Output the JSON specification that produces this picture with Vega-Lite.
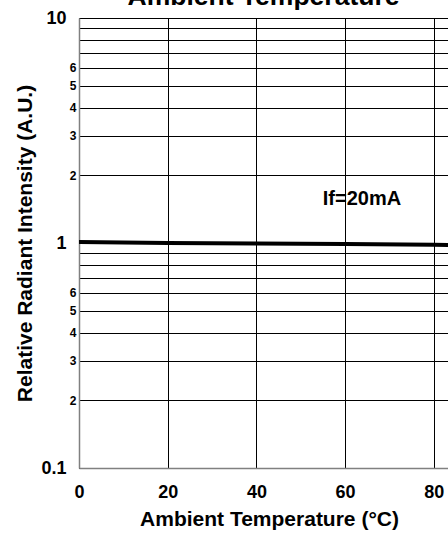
{
  "$schema": "https://vega.github.io/schema/vega-lite/v6.json",
  "autosize": "none",
  "width": 369,
  "height": 450,
  "padding": {"left": 79, "top": 18, "right": 0, "bottom": 66},
  "background": "white",
  "config": {
    "view": {"stroke": null},
    "font": "Liberation Sans"
  },
  "title": {
    "text": "Ambient Temperature",
    "fontSize": 26.5,
    "fontWeight": "bold",
    "font": "Liberation Sans",
    "color": "black",
    "anchor": "middle",
    "baseline": "alphabetic",
    "offset": -22
  },
  "layer": [
    {
      "data": {
        "values": [
          {"temp": 0, "intensity": 1.01},
          {"temp": 20, "intensity": 1.0},
          {"temp": 40, "intensity": 0.995},
          {"temp": 60, "intensity": 0.99},
          {"temp": 80, "intensity": 0.982},
          {"temp": 100, "intensity": 0.975}
        ]
      },
      "mark": {"type": "line", "color": "black", "strokeWidth": 4, "clip": true},
      "encoding": {
        "x": {
          "field": "temp",
          "type": "quantitative",
          "scale": {"domain": [0, 83.2], "nice": false, "zero": false},
          "axis": {
            "values": [0, 20, 40, 60, 80],
            "title": "Ambient Temperature (°C)",
            "titleFont": "Liberation Sans",
            "titleFontSize": 21,
            "titleFontWeight": "bold",
            "titleColor": "black",
            "titlePadding": 7,
            "titleX": 190,
            "titleAlign": "center",
            "labelFont": "Liberation Sans",
            "labelFontSize": 18,
            "labelFontWeight": "bold",
            "labelColor": "black",
            "labelPadding": 15,
            "labelFlush": false,
            "ticks": false,
            "domainColor": "#808080",
            "domainWidth": 1.5,
            "grid": true,
            "gridColor": "black",
            "gridWidth": 1,
            "gridOpacity": 1
          }
        },
        "y": {
          "field": "intensity",
          "type": "quantitative",
          "scale": {"type": "log", "domain": [0.1, 10], "nice": false},
          "axis": {
            "values": [0.1, 0.2, 0.3, 0.4, 0.5, 0.6, 0.7, 0.8, 0.9, 1, 2, 3, 4, 5, 6, 7, 8, 9, 10],
            "labelExpr": "datum.value == 0.1 ? '0.1' : datum.value == 1 ? '1' : datum.value == 10 ? '10' : (datum.value == 0.7 || datum.value == 0.8 || datum.value == 0.9 || datum.value == 7 || datum.value == 8 || datum.value == 9) ? '' : datum.value < 1 ? format(round(datum.value * 10), 'd') : format(datum.value, 'd')",
            "title": "Relative Radiant Intensity (A.U.)",
            "titleFont": "Liberation Sans",
            "titleFontSize": 21,
            "titleFontWeight": "bold",
            "titleColor": "black",
            "titlePadding": 5,
            "labelFont": "Liberation Sans",
            "labelFontSize": {"condition": {"test": "datum.value == 0.1 || datum.value == 1 || datum.value == 10", "value": 18}, "value": 12},
            "labelPadding": {"condition": {"test": "datum.value == 0.1 || datum.value == 1 || datum.value == 10", "value": 13}, "value": 3},
            "labelFontWeight": "bold",
            "labelColor": "black",
            "labelOverlap": false,
            "labelFlush": false,
            "ticks": false,
            "domainColor": "#808080",
            "domainWidth": 1.5,
            "grid": true,
            "gridColor": "black",
            "gridWidth": 1,
            "gridOpacity": 1
          }
        }
      }
    },
    {
      "data": {"values": [{"temp": 63.8, "intensity": 1.57, "label": "If=20mA"}]},
      "mark": {"type": "text", "fontSize": 20, "fontWeight": "bold", "font": "Liberation Sans", "color": "black", "align": "center", "baseline": "middle"},
      "encoding": {
        "x": {"field": "temp", "type": "quantitative"},
        "y": {"field": "intensity", "type": "quantitative"},
        "text": {"field": "label"}
      }
    }
  ]
}
